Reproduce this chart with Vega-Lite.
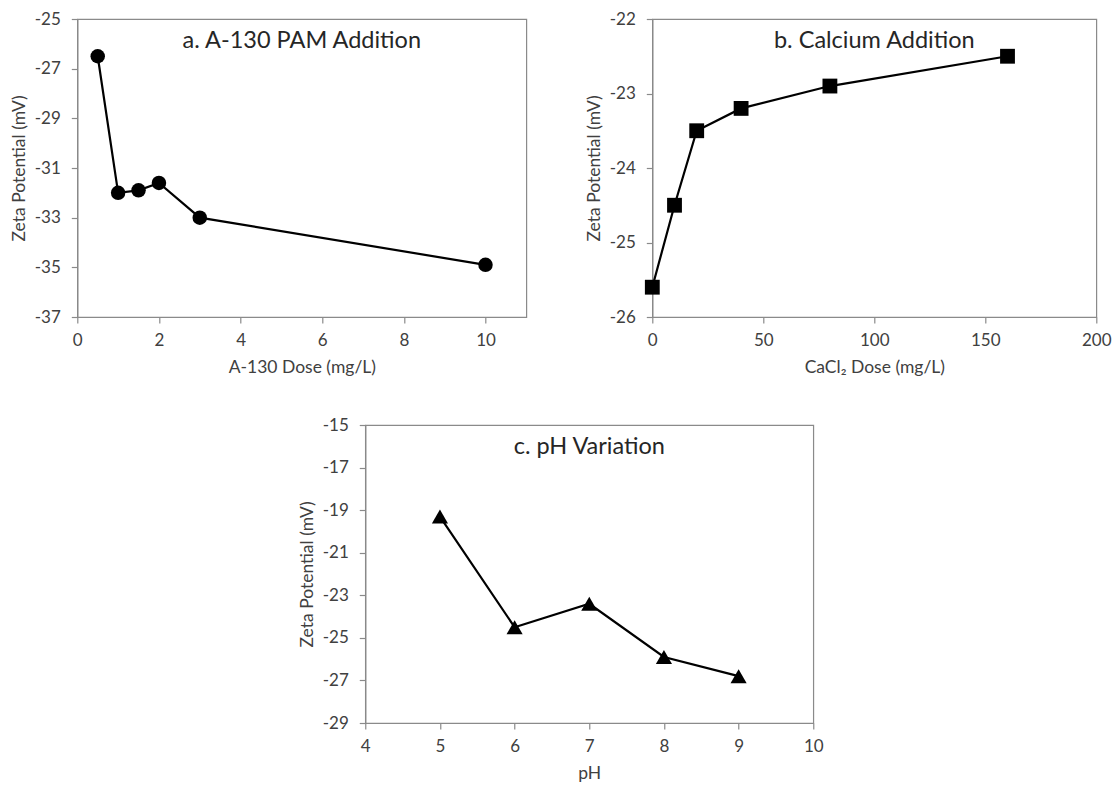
{
  "$schema": "https://vega.github.io/schema/vega-lite/v6.json",
  "background": "white",
  "padding": {"left": 9, "top": 9, "right": 0, "bottom": 0},
  "datasets": {
    "pam": [
      {"dose": 0.5, "zeta": -26.5},
      {"dose": 1, "zeta": -32.0},
      {"dose": 1.5, "zeta": -31.9},
      {"dose": 2, "zeta": -31.6},
      {"dose": 3, "zeta": -33.0},
      {"dose": 10, "zeta": -34.9}
    ],
    "calcium": [
      {"dose": 0, "zeta": -25.6},
      {"dose": 10, "zeta": -24.5},
      {"dose": 20, "zeta": -23.5},
      {"dose": 40, "zeta": -23.2},
      {"dose": 80, "zeta": -22.9},
      {"dose": 160, "zeta": -22.5}
    ],
    "ph": [
      {"ph": 5, "zeta": -19.3},
      {"ph": 6, "zeta": -24.5},
      {"ph": 7, "zeta": -23.4},
      {"ph": 8, "zeta": -25.9},
      {"ph": 9, "zeta": -26.8}
    ]
  },
  "config": {
    "font": "Lato",
    "view": {"stroke": "#8a8a8a", "strokeWidth": 1.2},
    "axis": {
      "grid": false,
      "domainColor": "#8a8a8a",
      "domainWidth": 1.2,
      "tickColor": "#8a8a8a",
      "tickWidth": 1.2,
      "tickSize": 6,
      "labelFont": "Lato",
      "labelFontSize": 17,
      "labelColor": "#404040",
      "labelExpr": "'' + datum.value",
      "titleFont": "Lato",
      "titleFontSize": 17.5,
      "titleFontWeight": "normal",
      "titleColor": "#404040",
      "labelFlush": false,
      "labelOverlap": false
    },
    "axisX": {"labelPadding": 9, "titlePadding": 10},
    "axisY": {"labelPadding": 11, "titlePadding": 6},
    "title": {
      "font": "Lato",
      "fontSize": 23.5,
      "fontWeight": "normal",
      "color": "#262626",
      "anchor": "middle",
      "offset": -42,
      "baseline": "alphabetic"
    },
    "concat": {"spacing": 57}
  },
  "vconcat": [
    {
      "hconcat": [
        {
          "title": "a. A-130 PAM Addition",
          "width": 449,
          "height": 298,
          "data": {"name": "pam"},
          "encoding": {
            "x": {"field": "dose", "type": "quantitative", "scale": {"domain": [0, 11], "nice": false},
                  "axis": {"title": "A-130 Dose (mg/L)", "values": [0, 2, 4, 6, 8, 10]}},
            "y": {"field": "zeta", "type": "quantitative", "scale": {"domain": [-37, -25], "nice": false, "zero": false},
                  "axis": {"title": "Zeta Potential (mV)", "values": [-37, -35, -33, -31, -29, -27, -25]}}
          },
          "layer": [
            {"mark": {"type": "line", "color": "black", "strokeWidth": 2.2}},
            {"mark": {"type": "point", "shape": "circle", "filled": true, "color": "black", "opacity": 1, "size": 210}}
          ]
        },
        {
          "title": "b. Calcium Addition",
          "width": 444,
          "height": 298,
          "data": {"name": "calcium"},
          "encoding": {
            "x": {"field": "dose", "type": "quantitative", "scale": {"domain": [0, 200], "nice": false},
                  "axis": {"title": "CaCl₂ Dose (mg/L)", "values": [0, 50, 100, 150, 200]}},
            "y": {"field": "zeta", "type": "quantitative", "scale": {"domain": [-26, -22], "nice": false, "zero": false},
                  "axis": {"title": "Zeta Potential (mV)", "values": [-26, -25, -24, -23, -22]}}
          },
          "layer": [
            {"mark": {"type": "line", "color": "black", "strokeWidth": 2.2}},
            {"mark": {"type": "point", "shape": "square", "filled": true, "color": "black", "opacity": 1, "size": 220}}
          ]
        }
      ]
    },
    {
      "title": "c. pH Variation",
      "width": 448,
      "height": 298,
      "data": {"name": "ph"},
      "encoding": {
        "x": {"field": "ph", "type": "quantitative", "scale": {"domain": [4, 10], "nice": false, "zero": false},
              "axis": {"title": "pH", "values": [4, 5, 6, 7, 8, 9, 10]}},
        "y": {"field": "zeta", "type": "quantitative", "scale": {"domain": [-29, -15], "nice": false, "zero": false},
              "axis": {"title": "Zeta Potential (mV)", "values": [-29, -27, -25, -23, -21, -19, -17, -15]}}
      },
      "layer": [
        {"mark": {"type": "line", "color": "black", "strokeWidth": 2.2}},
        {"mark": {"type": "point", "shape": "triangle-up", "filled": true, "color": "black", "opacity": 1, "size": 260}}
      ]
    }
  ],
  "spacing": 38,
  "center": true
}
